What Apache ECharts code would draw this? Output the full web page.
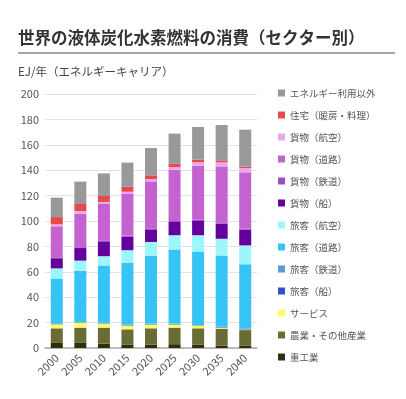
<!DOCTYPE html>
<html>
<head>
<meta charset="utf-8">
<script src="https://cdn.jsdelivr.net/npm/echarts@6/dist/echarts.min.js"></script>
<style>
html, body { margin: 0; padding: 0; background: #fff; }
#chart { width: 406px; height: 399px; }
</style>
</head>
<body>
<div id="chart"></div>
<script>
// 年
const years = ['2000', '2005', '2010', '2015', '2020', '2025', '2030', '2035', '2040']
const yTicks = [0, 20, 40, 60, 80, 100, 120, 140, 160, 180, 200]

// セクター別 (EJ/年) 下から順
const heavyIndustry = [4, 4, 3.5, 2.5, 2.7, 3, 2.5, 2, 2]
const agriOther = [11.5, 12, 12.5, 12.2, 12.8, 13, 13, 13, 12.1]
const services = [3.2, 4, 3.2, 2.9, 2.9, 2.4, 2.1, 0.7, 0.4]
const passShip = [0.3, 0.2, 0.3, 0.3, 0.3, 0.3, 0.2, 0.3, 0.3]
const passRail = [0.5, 0.3, 0.5, 0.5, 0.5, 0.5, 0.3, 0.8, 0.7]
const passRoad = [35.2, 40.3, 45, 48.8, 53.6, 58.4, 57.9, 56, 50.4]
const passAir = [8, 8, 7.3, 9.8, 10.7, 11.2, 12.8, 13.2, 14.9]
const freightShip = [8, 9.9, 11.7, 10.5, 9.9, 10.4, 11.2, 11.9, 12.4]
const freightRail = [0.7, 0.7, 0.8, 1, 0.8, 0.8, 1, 1.1, 1]
const freightRoad = [24.4, 26.4, 28.6, 32.8, 37, 40.4, 42.6, 44, 44.1]
const freightAir = [1.6, 2.1, 1.6, 1.7, 1.8, 2.1, 2.6, 3.2, 3.4]
const residential = [5.7, 5.5, 4.7, 4, 3, 2.5, 2.1, 1.6, 1.1]
const nonEnergy = [15.3, 17.6, 17.8, 19, 21.5, 23.8, 25.7, 27.8, 29.1]

const seriesList = [
    { name: '重工業', data: heavyIndustry, color: '#2c300e' },
    { name: '農業・その他産業', data: agriOther, color: '#6b6b35' },
    { name: 'サービス', data: services, color: '#fbfb6a' },
    { name: '旅客（船）', data: passShip, color: '#2d55c8' },
    { name: '旅客（鉄道）', data: passRail, color: '#5e98d6' },
    { name: '旅客（道路）', data: passRoad, color: '#36c3f6' },
    { name: '旅客（航空）', data: passAir, color: '#9ef6fd' },
    { name: '貨物（船）', data: freightShip, color: '#64009b' },
    { name: '貨物（鉄道）', data: freightRail, color: '#9b4fc2' },
    { name: '貨物（道路）', data: freightRoad, color: '#c462d0' },
    { name: '貨物（航空）', data: freightAir, color: '#eaa6ee' },
    { name: '住宅（暖房・料理）', data: residential, color: '#e84a4a' },
    { name: 'エネルギー利用以外', data: nonEnergy, color: '#999999' }
]

const chart = echarts.init(document.getElementById('chart'))
const font = '"Noto Sans CJK JP", "Noto Sans", sans-serif'

const option = {
    animation: false,
    textStyle: { fontFamily: font },
    title: [{
        text: '世界の液体炭化水素燃料の消費（セクター別）',
        left: 13,
        top: 24,
        textStyle: { fontSize: 16.5, fontWeight: 'bold', color: '#333', fontFamily: font }
    }, {
        text: 'EJ/年（エネルギーキャリア）',
        left: 13,
        top: 61,
        textStyle: { fontSize: 11.5, fontWeight: 'normal', color: '#444', fontFamily: font }
    }],
    graphic: [{
        type: 'line',
        shape: { x1: 18, y1: 53, x2: 395, y2: 53 },
        style: { stroke: '#888', lineWidth: 1.5 }
    }],
    legend: {
        orient: 'vertical',
        left: 273,
        top: 82,
        icon: 'rect',
        itemWidth: 7,
        itemHeight: 7,
        itemGap: 10,
        textStyle: { fontSize: 9.5, color: '#555', lineHeight: 12, fontFamily: font },
        data: seriesList.map(s => s.name).reverse()
    },
    grid: {
        left: 45,
        right: 149,
        top: 94,
        bottom: 51
    },
    xAxis: {
        type: 'category',
        data: years,
        axisTick: { show: false },
        axisLine: { lineStyle: { color: '#aaa', width: 1.5 } },
        axisLabel: { rotate: 45, fontSize: 11, color: '#555', margin: 8, fontFamily: font }
    },
    yAxis: {
        type: 'value',
        min: yTicks[0],
        max: yTicks[yTicks.length - 1],
        interval: 20,
        axisLabel: { fontSize: 11, color: '#555', margin: 6, fontFamily: font },
        splitLine: { lineStyle: { color: '#e2e2e2' } },
        axisLine: { show: false },
        axisTick: { show: false }
    },
    series: seriesList.map(s => ({
        type: 'bar',
        name: s.name,
        stack: 'total',
        barWidth: 12,
        itemStyle: { color: s.color },
        data: s.data
    }))
}

chart.setOption(option)
</script>
</body>
</html>
